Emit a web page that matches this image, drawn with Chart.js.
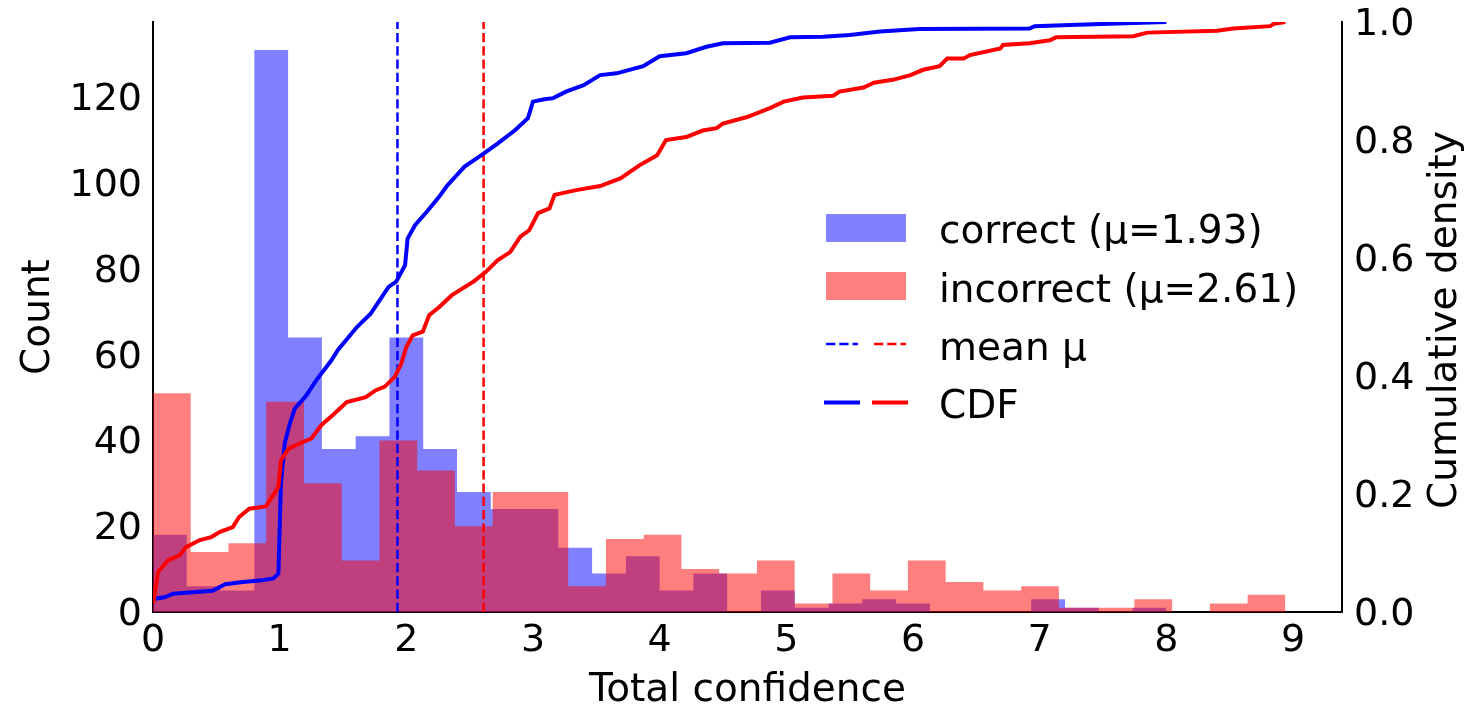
<!DOCTYPE html>
<html>
<head>
<meta charset="utf-8">
<title>Total confidence histogram</title>
<script src="https://cdn.jsdelivr.net/npm/chart.js@4"></script>
<style>
  html, body { margin: 0; padding: 0; background: #fff; }
</style>
</head>
<body>
<canvas id="confChart" width="1471" height="707"></canvas>
<script>
// histogram bins (30 equal bins over each group's range)
const correctRange = [0, 8.0];
const incorrectRange = [0, 8.94];
const correctCounts = [18, 6, 5, 131, 64, 38, 41, 64, 38, 28, 24, 24, 15, 9, 13, 5, 9, 0, 5, 1, 2, 3, 2, 0, 0, 0, 3, 1, 0, 1];
const incorrectCounts = [51, 14, 16, 49, 30, 12, 40, 33, 20, 28, 28, 6, 17, 18, 10, 9, 12, 2, 9, 5, 12, 7, 5, 6, 1, 1, 3, 0, 2, 4];
const means = [1.93, 2.61];

const correctCdf = [
  [0, 0.022], [0.09, 0.025], [0.16, 0.031], [0.47, 0.036], [0.57, 0.047], [0.71, 0.051],
  [0.86, 0.054], [0.95, 0.057], [0.99, 0.065], [1.01, 0.218], [1.04, 0.286], [1.08, 0.319],
  [1.12, 0.345], [1.21, 0.367], [1.29, 0.393], [1.41, 0.427], [1.46, 0.444], [1.61, 0.483],
  [1.72, 0.506], [1.86, 0.551], [1.92, 0.560], [1.99, 0.588], [2.01, 0.633], [2.07, 0.656],
  [2.16, 0.678], [2.26, 0.704], [2.32, 0.722], [2.46, 0.755], [2.61, 0.777], [2.72, 0.794],
  [2.86, 0.817], [2.96, 0.837], [3.0, 0.865], [3.09, 0.869], [3.16, 0.871], [3.26, 0.882],
  [3.40, 0.893], [3.53, 0.910], [3.66, 0.913], [3.87, 0.925], [4.0, 0.942], [4.21, 0.947],
  [4.37, 0.958], [4.5, 0.964], [4.87, 0.965], [5.03, 0.974], [5.29, 0.975], [5.5, 0.978],
  [5.74, 0.984], [6.05, 0.988], [6.92, 0.989], [6.96, 0.993], [7.24, 0.995], [8.0, 1.0]
];
const incorrectCdf = [
  [0, 0.015], [0.02, 0.04], [0.04, 0.068], [0.12, 0.088], [0.21, 0.096], [0.26, 0.110],
  [0.37, 0.122], [0.46, 0.127], [0.53, 0.136], [0.63, 0.144], [0.68, 0.161], [0.76, 0.175],
  [0.89, 0.179], [0.95, 0.198], [0.99, 0.212], [1.01, 0.257], [1.07, 0.277], [1.16, 0.286],
  [1.25, 0.294], [1.33, 0.317], [1.42, 0.334], [1.53, 0.356], [1.68, 0.364], [1.76, 0.376],
  [1.83, 0.382], [1.91, 0.399], [1.96, 0.421], [2.0, 0.449], [2.05, 0.469], [2.13, 0.475],
  [2.18, 0.503], [2.26, 0.517], [2.36, 0.537], [2.53, 0.560], [2.63, 0.577], [2.72, 0.596],
  [2.82, 0.610], [2.90, 0.636], [2.97, 0.647], [3.04, 0.676], [3.13, 0.684], [3.17, 0.707],
  [3.34, 0.715], [3.53, 0.722], [3.69, 0.735], [3.84, 0.757], [3.98, 0.774], [4.05, 0.800],
  [4.21, 0.805], [4.34, 0.816], [4.45, 0.820], [4.5, 0.828], [4.69, 0.839], [4.87, 0.854],
  [4.98, 0.865], [5.13, 0.872], [5.37, 0.875], [5.42, 0.882], [5.61, 0.889], [5.69, 0.897],
  [5.84, 0.902], [5.98, 0.910], [6.08, 0.919], [6.21, 0.925], [6.27, 0.938], [6.40, 0.938],
  [6.45, 0.944], [6.69, 0.955], [6.71, 0.961], [6.92, 0.964], [7.08, 0.969], [7.13, 0.974],
  [7.74, 0.976], [7.85, 0.982], [8.40, 0.985], [8.53, 0.989], [8.82, 0.993], [8.85, 0.997],
  [8.94, 1.0]
];

const xTicks = [0, 1, 2, 3, 4, 5, 6, 7, 8, 9];
const countTicks = [0, 20, 40, 60, 80, 100, 120];
const cdfTicks = [0, 0.2, 0.4, 0.6, 0.8, 1.0];
const groupNames = ['correct', 'incorrect'];
const meanLabel = 'mean \u03bc';
const cdfLabel = 'CDF';
const xTitle = 'Total confidence';
const yTitle = 'Count';
const y1Title = 'Cumulative density';

const BLUE = '#0000ff';
const RED = '#ff0000';
const FONT = '"DejaVu Sans", sans-serif';

// bar outline as corner points so the filled line looks like a histogram
function histPoints(counts, range) {
  const w = (range[1] - range[0]) / counts.length;
  const pts = [];
  counts.forEach((c, i) => {
    pts.push({ x: range[0] + i * w, y: c });
    pts.push({ x: range[0] + (i + 1) * w, y: c });
  });
  return pts;
}
const toXY = arr => arr.map(p => ({ x: p[0], y: p[1] }));
const meanLine = m => [{ x: m, y: 0 }, { x: m, y: 1 }];

const histStyle = {
  borderWidth: 0,
  borderColor: 'rgba(0,0,0,0)',
  pointRadius: 0,
  tension: 0,
  fill: 'origin',
  yAxisID: 'y'
};

const overlay = {
  id: 'overlay',
  afterDraw(chart) {
    const ctx = chart.ctx;
    const area = chart.chartArea;
    const midY = (area.top + area.bottom) / 2;
    ctx.save();
    ctx.fillStyle = '#000';
    ctx.font = '39px ' + FONT;
    ctx.textAlign = 'center';
    ctx.textBaseline = 'alphabetic';
    ctx.fillText(xTitle, (area.left + area.right) / 2, 701);

    ctx.save();
    ctx.translate(49, midY);
    ctx.rotate(-Math.PI / 2);
    ctx.fillText(yTitle, 0, 0);
    ctx.restore();

    ctx.save();
    ctx.translate(1456, midY + 3);
    ctx.rotate(-Math.PI / 2);
    ctx.fillText(y1Title, 0, 0);
    ctx.restore();

    // legend
    const lx = 826, tx = 939;
    ctx.fillStyle = 'rgba(0,0,255,0.5)';
    ctx.fillRect(lx, 214, 80, 28);
    ctx.fillStyle = 'rgba(255,0,0,0.5)';
    ctx.fillRect(lx, 272, 80, 28);

    ctx.lineWidth = 2.5;
    ctx.setLineDash([9.25, 4]);
    ctx.strokeStyle = BLUE;
    ctx.beginPath(); ctx.moveTo(lx, 344); ctx.lineTo(lx + 32, 344); ctx.stroke();
    ctx.strokeStyle = RED;
    ctx.beginPath(); ctx.moveTo(lx + 48, 344); ctx.lineTo(lx + 80, 344); ctx.stroke();

    ctx.setLineDash([]);
    ctx.lineWidth = 4;
    ctx.strokeStyle = BLUE;
    ctx.beginPath(); ctx.moveTo(lx - 2, 402.5); ctx.lineTo(lx + 34, 402.5); ctx.stroke();
    ctx.strokeStyle = RED;
    ctx.beginPath(); ctx.moveTo(lx + 46, 402.5); ctx.lineTo(lx + 82, 402.5); ctx.stroke();

    ctx.fillStyle = '#000';
    ctx.textAlign = 'left';
    ctx.fillText(groupNames[0] + ' (\u03bc=' + means[0].toFixed(2) + ')', tx, 243);
    ctx.fillText(groupNames[1] + ' (\u03bc=' + means[1].toFixed(2) + ')', tx, 301.5);
    ctx.fillText(meanLabel, tx, 360);
    ctx.fillText(cdfLabel, tx, 417.5);
    ctx.restore();
  }
};

const tickFont = { family: FONT, size: 38 };
const spine = { display: true, color: '#000', width: 2 };

// fixed axis boxes so the plot area sits where the reference has it
function fixY(width) {
  return s => {
    s.width = width;
    s.paddingTop = 0;
    s.paddingBottom = 0;
  };
}

const ctx = document.getElementById('confChart').getContext('2d');
const chart = new Chart(ctx, {
  type: 'line',
  data: {
    datasets: [
      Object.assign({ label: 'correct', data: histPoints(correctCounts, correctRange),
        backgroundColor: 'rgba(0,0,255,0.5)', order: 10 }, histStyle),
      Object.assign({ label: 'incorrect', data: histPoints(incorrectCounts, incorrectRange),
        backgroundColor: 'rgba(255,0,0,0.5)', order: 9 }, histStyle),
      {
        label: 'mean correct', data: meanLine(means[0]), yAxisID: 'y1',
        borderColor: BLUE, borderWidth: 2.5, borderDash: [9.25, 4], pointRadius: 0, fill: false, order: 8
      },
      {
        label: 'mean incorrect', data: meanLine(means[1]), yAxisID: 'y1',
        borderColor: RED, borderWidth: 2.5, borderDash: [9.25, 4], pointRadius: 0, fill: false, order: 7
      },
      {
        label: 'CDF correct', data: toXY(correctCdf), yAxisID: 'y1',
        borderColor: BLUE, borderWidth: 4, pointRadius: 0, tension: 0, fill: false, order: 6
      },
      {
        label: 'CDF incorrect', data: toXY(incorrectCdf), yAxisID: 'y1',
        borderColor: RED, borderWidth: 4, pointRadius: 0, tension: 0, fill: false, order: 5
      }
    ]
  },
  options: {
    responsive: false,
    animation: false,
    events: [],
    layout: { padding: { top: 22, left: 0, right: 0, bottom: 0 } },
    scales: {
      x: {
        type: 'linear',
        min: 0,
        max: 9.387,
        grid: { display: false, drawTicks: false },
        border: spine,
        ticks: { font: tickFont, color: '#000', padding: 6, maxRotation: 0 },
        afterBuildTicks: s => { s.ticks = xTicks.map(v => ({ value: v })); },
        afterFit: s => { s.height = 95; }
      },
      y: {
        position: 'left',
        min: 0,
        max: 137.55,
        grid: { display: false, drawTicks: false },
        border: spine,
        ticks: { font: tickFont, color: '#000', padding: 11, labelOffset: 3 },
        afterBuildTicks: s => { s.ticks = countTicks.map(v => ({ value: v })); },
        afterFit: fixY(153)
      },
      y1: {
        position: 'right',
        min: 0,
        max: 1.0,
        grid: { display: false, drawTicks: false },
        border: spine,
        ticks: { font: tickFont, color: '#000', padding: 12, labelOffset: 3, callback: v => v.toFixed(1) },
        afterBuildTicks: s => { s.ticks = cdfTicks.map(v => ({ value: v })); },
        afterFit: fixY(129)
      }
    },
    plugins: {
      legend: { display: false },
      tooltip: { enabled: false },
      title: { display: false }
    }
  },
  plugins: [overlay]
});
</script>
</body>
</html>
